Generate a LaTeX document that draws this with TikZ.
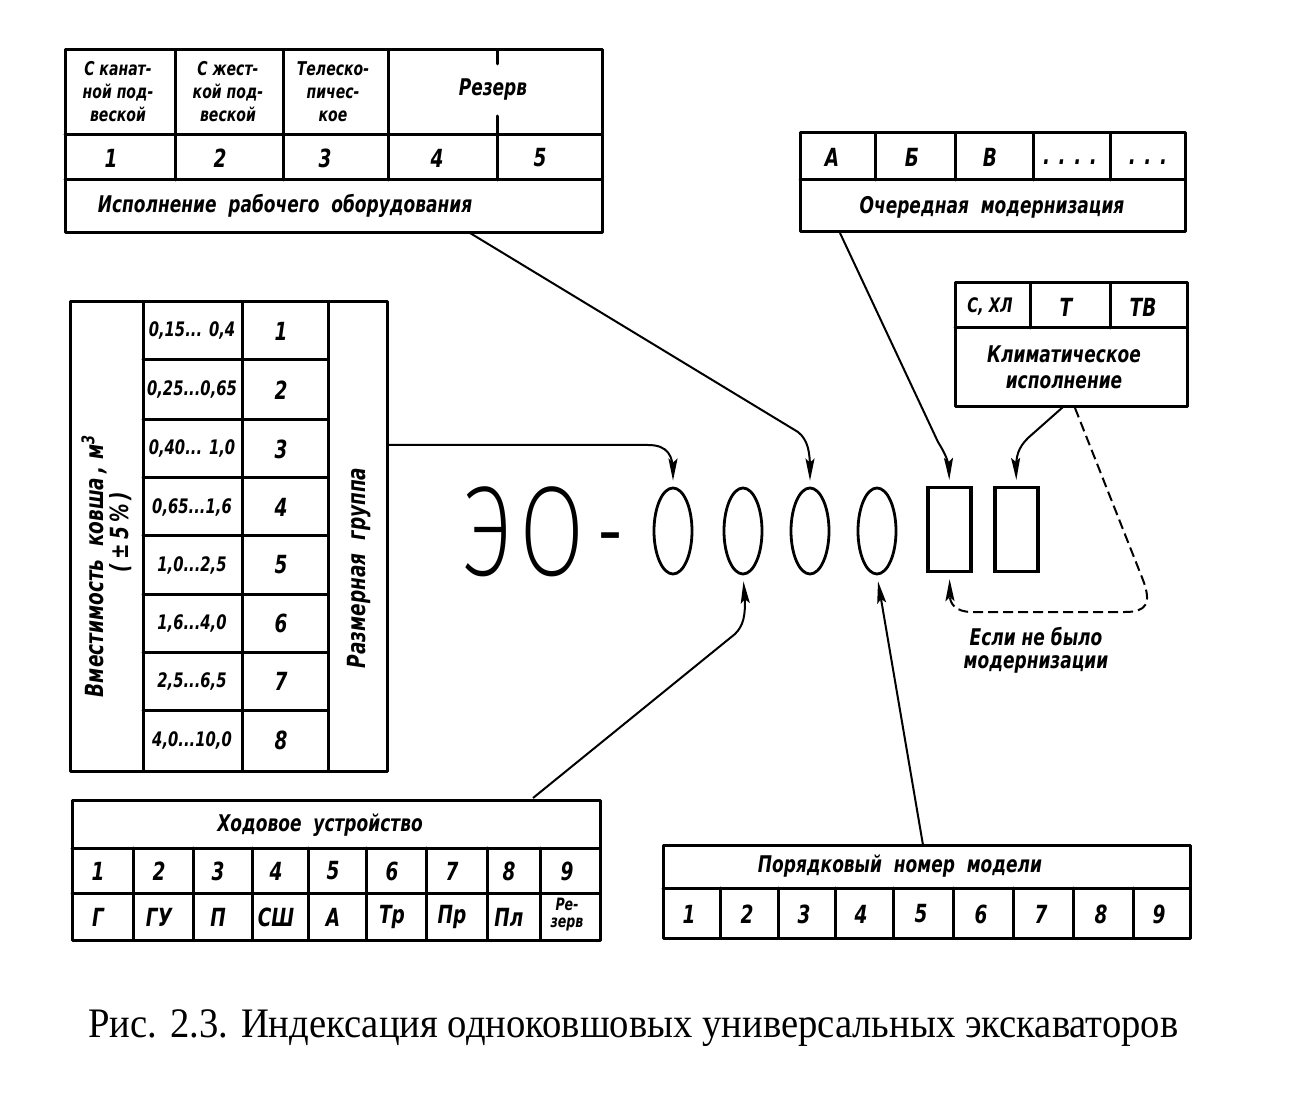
\documentclass[tikz,border=0pt]{standalone}
\usepackage{fontspec}
\setmainfont{Liberation Serif}
\newfontfamily\capf[FakeStretch=0.92]{Liberation Serif}
\newfontfamily\gost[FakeStretch=0.74]{DejaVu Sans}
\newfontfamily\gostbig[FakeStretch=0.74]{Fira Sans ExtraLight}
\newfontfamily\gostdash[FakeStretch=0.55]{DejaVu Sans}
\usetikzlibrary{arrows.meta,shapes.geometric}
\begin{document}
\begin{tikzpicture}[x=0.5pt,y=-0.5pt,
  tbl/.style={line width=1.5pt, line cap=round, line join=round},
  lbl/.style={font=\gost\bfseries\itshape\fontsize{11.5}{13}\selectfont, inner sep=0pt},
  sml/.style={font=\gost\bfseries\itshape\fontsize{9.5}{11.5}\selectfont, inner sep=0pt, align=center},
  num/.style={font=\gost\bfseries\itshape\fontsize{12.5}{14}\selectfont, inner sep=0pt},
  rng/.style={font=\gost\bfseries\itshape\fontsize{10}{11}\selectfont, inner sep=0pt},
  oval/.style={ellipse, draw, line width=1.4pt, minimum width=19pt, minimum height=43pt, inner sep=0pt},
  slot/.style={rectangle, draw, line width=1.6pt, minimum width=21.5pt, minimum height=42pt, inner sep=0pt},
  conn/.style={line width=1pt, -{Stealth[length=11pt,width=4.5pt,inset=2pt]}, shorten >=3pt},
  dconn/.style={conn, dashed, dash pattern=on 5pt off 2.5pt}
]
\useasboundingbox (0,0) rectangle (1307,1101);

% ---- table: working equipment ----
\draw[tbl] (65,50) rectangle (602,233);
\draw[tbl] (65,135) -- (602,135) (65,180) -- (602,180);
\draw[tbl] (175,50) -- (175,180) (283,50) -- (283,180) (388,50) -- (388,180) (497,135) -- (497,180);
\draw[tbl] (497,50) -- (497,64) (497,116) -- (497,135);
\node[sml] (w1) at (118,92) {С канат-\\ной под-\\веской};
\node[sml] (w2) at (228,92) {С жест-\\кой под-\\веской};
\node[sml] (w3) at (333,92) {Телеско-\\пичес-\\кое};
\node[lbl] (w45) at (493,90) {Резерв};
\node[num] (n1) at (111,158) {1};
\node[num] (n2) at (220,158) {2};
\node[num] (n3) at (325,158) {3};
\node[num] (n4) at (437,158) {4};
\node[num] (n5) at (540,158) {5};
\node[lbl] (wt) at (285,206) {Исполнение\ \ рабочего\ \ оборудования};
\coordinate (wout) at (470,233);

% ---- table: modernisation ----
\draw[tbl] (800,133) rectangle (1185,232);
\draw[tbl] (800,180) -- (1185,180);
\draw[tbl] (875,133) -- (875,180) (955,133) -- (955,180) (1033,133) -- (1033,180) (1110,133) -- (1110,180);
\node[num] (mA) at (832,157) {А};
\node[num] (mB) at (912,157) {Б};
\node[num] (mV) at (990,157) {В};
\node[num] (mD1) at (1070,162) {. . . .};
\node[num] (mD2) at (1148,162) {. . .};
\node[lbl] (mt) at (992,207) {Очередная\ \ модернизация};
\coordinate (mout) at (840,233);

% ---- table: climate ----
\draw[tbl] (955,283) rectangle (1187,407);
\draw[tbl] (955,328) -- (1187,328);
\draw[tbl] (1030,283) -- (1030,328) (1110,283) -- (1110,328);
\node[rng] (k1) at (990,307) {С, ХЛ};
\node[num] (k2) at (1066,307) {Т};
\node[num] (k3) at (1143,307) {ТВ};
\node[lbl, align=center] (kt) at (1064,367) {Климатическое\\исполнение};
\coordinate (kout) at (1063,407);
\coordinate (kdash) at (1075,408);

% ---- table: bucket capacity / size group ----
\draw[tbl] (70,302) rectangle (387,771);
\draw[tbl] (143,302) -- (143,771) (242,302) -- (242,771) (328,302) -- (328,771);
\foreach \yy in {360,420,478,536,594,652,710}
  \draw[tbl] (143,\yy) -- (328,\yy);
\foreach \yy/\rr/\gg [count=\i] in {331/{0,15... 0,4}/1, 390/{0,25...0,65}/2, 449/{0,40... 1,0}/3, 507/{0,65...1,6}/4, 565/{1,0...2,5}/5, 623/{1,6...4,0}/6, 681/{2,5...6,5}/7, 740/{4,0...10,0}/8}
{
  \node[rng] (r\i) at (192,\yy) {\rr};
  \node[num] (g\i) at (281,\yy) {\gg};
}
\node[lbl, rotate=90, font=\gost\bfseries\itshape\fontsize{12.5}{14}\selectfont] (cap1) at (94,566) {Вместимость\ \ ковша\,,\ м\textsuperscript{3}};
\node[lbl, rotate=90, font=\gost\bfseries\itshape\fontsize{12.5}{14}\selectfont] (cap2) at (121,532) {(\,±\,5\,\%\,)};
\node[lbl, rotate=90, font=\gost\bfseries\itshape\fontsize{12.5}{14}\selectfont] (grp) at (359,568) {Размерная\ \ группа};
\coordinate (cout) at (387,445);

% ---- table: undercarriage ----
\draw[tbl] (72,800) rectangle (600,940);
\draw[tbl] (72,848) -- (600,848) (72,893) -- (600,893);
\foreach \xx in {133,193,252,308,366,426,487,540}
  \draw[tbl] (\xx,848) -- (\xx,940);
\node[lbl] (ht) at (320,825) {Ходовое\ \ устройство};
\foreach \xx/\nn/\ll [count=\i] in {102/1/Г, 163/2/ГУ, 222/3/П, 280/4/СШ, 337/5/А, 396/6/Тр, 456/7/Пр, 513/8/Пл}
{
  \node[num] (hn\i) at (\xx-4,871) {\nn};
  \node[num] (hl\i) at (\xx-4,917) {\ll};
}
\node[num] (hn9) at (567,871) {9};
\node[font=\gost\bfseries\itshape\fontsize{8.5}{8.5}\selectfont, inner sep=0pt, align=center] (hl9) at (567,915) {Ре-\\зерв};
\coordinate (hout) at (533,798);

% ---- table: model number ----
\draw[tbl] (663,845) rectangle (1190,938);
\draw[tbl] (663,888) -- (1190,888);
\foreach \xx in {720,778,835,893,953,1013,1073,1133}
  \draw[tbl] (\xx,888) -- (\xx,938);
\node[lbl] (pt) at (900,866) {Порядковый\ \ номер\ \ модели};
\foreach \xx [count=\i] in {689,747,804,861,921,981,1041,1101,1159}
  \node[num] (p\i) at (\xx,914) {\i};
\coordinate (pout) at (923,845);

% ---- index symbol ----
\node[font=\gostbig\fontsize{64}{64}\selectfont, inner sep=0pt, anchor=base] (eo) at (524,575) {Э\kern3ptО};
\node[font=\gostdash\fontsize{40}{40}\selectfont, inner sep=0pt, anchor=base] (dash) at (610,558) {–};
\node[oval] (e1) at (673,531) {};
\node[oval] (e2) at (743,531) {};
\node[oval] (e3) at (810,531) {};
\node[oval] (e4) at (877,531) {};
\node[slot] (s1) at (949.5,529.5) {};
\node[slot] (s2) at (1016.5,529.5) {};

% ---- connectors ----
\draw[conn] (cout) -- (648,445) .. controls (668,445) and (673,456) .. (673,472) -- (e1.north);
\draw[conn] (wout) -- (798,432) .. controls (808,440) and (810,452) .. (810,470) -- (e3.north);
\draw[conn] (hout) -- (735,634) .. controls (744,625) and (745,615) .. (745,600) -- (e2.south);
\draw[conn] (pout) -- (e4.south);
\draw[conn] (mout) -- (938,442) .. controls (946,455) and (949,462) .. (949,472) -- (s1.north);
\draw[conn] (kout) -- (1028,438) .. controls (1018,448) and (1016,456) .. (1016,470) -- (s2.north);
\draw[dconn] (kdash) -- (1143,580) .. controls (1152,604) and (1146,612) .. (1125,612) -- (972,612) .. controls (955,612) and (950,603) .. (s1.south);
\node[lbl, align=center, font=\gost\bfseries\itshape\fontsize{11.5}{11.5}\selectfont] (ifnot) at (1036,650) {Если\ не\ было\\модернизации};

% ---- caption ----
\node[font=\capf\fontsize{21}{23}\selectfont, inner sep=0pt, anchor=base west] (fig) at (88,1037) {Рис. 2.3. Индексация одноковшовых универсальных экскаваторов};
\end{tikzpicture}
\end{document}
